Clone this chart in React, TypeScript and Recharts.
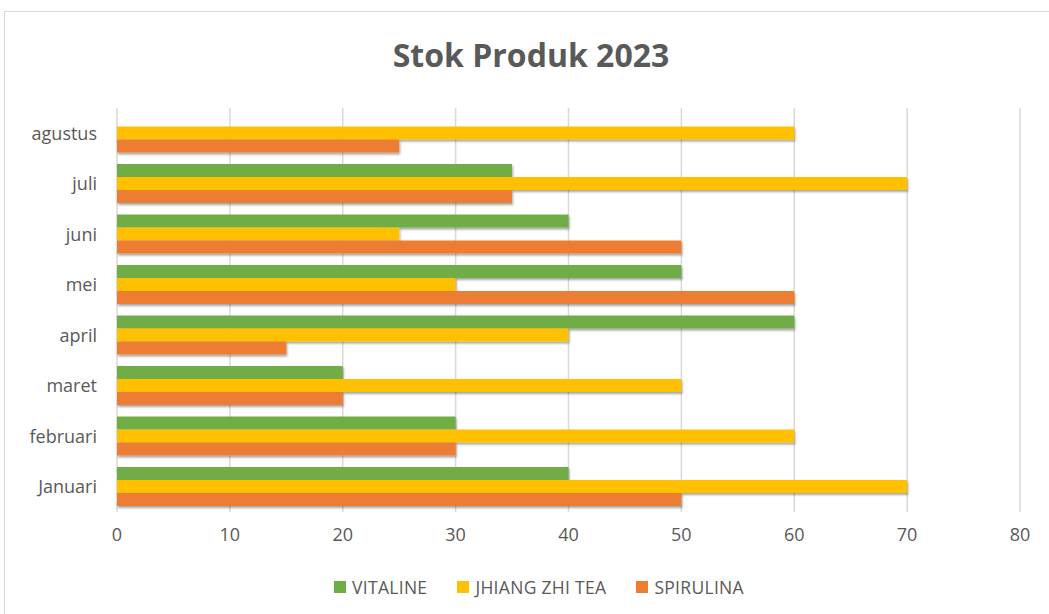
import { BarChart, Bar, XAxis, YAxis, CartesianGrid } from "recharts";

const months = ["Januari", "februari", "maret", "april", "mei", "juni", "juli", "agustus"];
const vitaline = [40, 30, 20, 60, 50, 40, 35, null];
const jhiangZhiTea = [70, 60, 50, 40, 30, 25, 70, 60];
const spirulina = [50, 30, 20, 15, 60, 50, 35, 25];
const xTicks = [0, 10, 20, 30, 40, 50, 60, 70, 80];

const series = [
  { name: "VITALINE", color: "#70ad47" },
  { name: "JHIANG ZHI TEA", color: "#ffc000" },
  { name: "SPIRULINA", color: "#ed7d31" },
];

// Excel draws the first category at the bottom, so the table is flipped
const data = months
  .map((m, i) => ({
    month: m,
    VITALINE: vitaline[i],
    "JHIANG ZHI TEA": jhiangZhiTea[i],
    SPIRULINA: spirulina[i],
  }))
  .reverse();

const FONT = "'Open Sans', 'Noto Sans', sans-serif";
const GREY = "#595959";

export default function App() {
  return (
    <div style={{ position: "absolute", left: 0, top: 0, width: 1049, height: 614, background: "#fff", overflow: "hidden" }}>
      {/* chart frame */}
      <div
        style={{
          position: "absolute",
          left: 4,
          top: 11,
          width: 1060,
          height: 620,
          border: "1px solid #d9d9d9",
        }}
      />
      <div
        style={{
          position: "absolute",
          left: 4,
          top: 33,
          width: 1054,
          textAlign: "center",
          fontFamily: FONT,
          fontWeight: 700,
          fontSize: 32,
          color: GREY,
        }}
      >
        Stok Produk 2023
      </div>
      <div style={{ position: "absolute", left: 0, top: 0 }}>
        <BarChart
          width={1049}
          height={614}
          data={data}
          layout="vertical"
          margin={{ top: 108, right: 29, bottom: 62, left: 0 }}
          barCategoryGap="11%"
          barGap={0}
        >
          <defs>
            <filter id="shadow" x="-5%" y="-50%" width="110%" height="200%">
              <feDropShadow dx="1" dy="2" stdDeviation="1.2" floodColor="#000" floodOpacity="0.35" />
            </filter>
          </defs>
          <CartesianGrid horizontal={false} stroke="#d9d9d9" strokeWidth={1.5} />
          <XAxis
            type="number"
            domain={[0, 80]}
            ticks={xTicks}
            axisLine={false}
            tickLine={false}
            tickMargin={10}
            height={40}
            tick={{ fill: GREY, fontSize: 18, fontFamily: FONT }}
          />
          <YAxis
            type="category"
            dataKey="month"
            width={117}
            axisLine={false}
            tickLine={false}
            tickMargin={14}
            tick={{ fill: GREY, fontSize: 18, fontFamily: FONT }}
          />
          {series.map((s) => (
            <Bar key={s.name} dataKey={s.name} fill={s.color} filter="url(#shadow)" isAnimationActive={false} />
          ))}
        </BarChart>
      </div>
      {/* legend */}
      <div
        style={{
          position: "absolute",
          left: 8,
          top: 575,
          width: 1062,
          display: "flex",
          justifyContent: "center",
          gap: 30,
          fontFamily: FONT,
          fontSize: 17.5,
          letterSpacing: 0.3,
          color: GREY,
        }}
      >
        {series.map((s) => (
          <div key={s.name} style={{ display: "flex", alignItems: "center", gap: 6 }}>
            <span style={{ width: 12, height: 12, background: s.color, display: "inline-block" }} />
            <span>{s.name}</span>
          </div>
        ))}
      </div>
    </div>
  );
}
